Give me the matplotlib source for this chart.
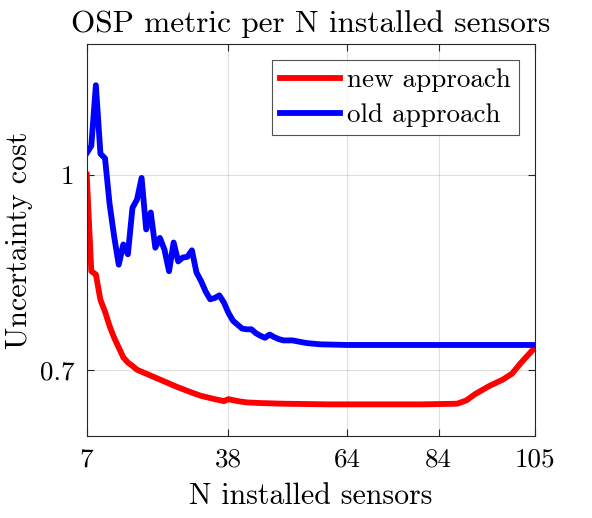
import matplotlib
matplotlib.use("Agg")
import matplotlib.pyplot as plt

plt.rcParams['font.family'] = ['cmr10', 'DejaVu Serif']
plt.rcParams['mathtext.fontset'] = 'cm'
plt.rcParams['axes.formatter.use_mathtext'] = True

title = "OSP metric per N installed sensors"
xlabel = "N installed sensors"
ylabel = "Uncertainty cost"
xticks = [7, 38, 64, 84, 105]
yticks = [0.7, 1.0]
ytick_labels = ["0.7", "1"]

new_x = [7, 8, 9, 10, 11, 12, 13, 14, 15, 16, 17, 18, 20, 23, 25, 27, 30, 32, 35, 37, 38, 40, 42, 45, 50,
         60, 70, 80, 88, 90, 92, 95, 98, 100, 102, 105]
new_y = [1.0, 0.852, 0.847, 0.808, 0.790, 0.768, 0.750, 0.735, 0.720, 0.712, 0.707, 0.701, 0.695, 0.686,
         0.680, 0.674, 0.666, 0.661, 0.656, 0.653, 0.656, 0.653, 0.651, 0.650, 0.649,
         0.648, 0.648, 0.648, 0.649, 0.654, 0.664, 0.676, 0.686, 0.695, 0.712, 0.735]

old_x = [7, 8, 9, 10, 11, 12, 13, 14, 15, 16, 17, 18, 19, 20, 21, 22, 23, 24, 25, 26, 27, 28, 29, 30,
         31, 32, 33, 34, 35, 36, 37, 38, 39, 40, 41, 42, 43, 44, 45, 46, 47, 48, 49, 50, 52, 55, 58,
         64, 84, 105]
old_y = [1.033, 1.044, 1.137, 1.032, 1.025, 0.955, 0.905, 0.862, 0.893, 0.878, 0.949, 0.962, 0.995,
         0.916, 0.942, 0.888, 0.903, 0.885, 0.852, 0.896, 0.867, 0.873, 0.874, 0.884,
         0.850, 0.837, 0.821, 0.809, 0.811, 0.815, 0.804, 0.788, 0.776, 0.770, 0.764, 0.763, 0.763,
         0.757, 0.753, 0.750, 0.755, 0.751, 0.748, 0.746, 0.746, 0.742, 0.740,
         0.739, 0.739, 0.739]

fig = plt.figure(figsize=(5.92, 5.18), dpi=100)
ax = fig.add_axes([0.1465, 0.1589, 0.757, 0.756])

ax.plot(new_x, new_y, color=(1, 0, 0), lw=4.2, label="new approach", solid_joinstyle='round')
ax.plot(old_x, old_y, color=(0, 0, 1), lw=4.2, label="old approach", solid_joinstyle='round')

ax.set_xlim(7, 105)
ax.set_ylim(0.6, 1.2)
ax.set_xticks(xticks)
ax.set_xticklabels([str(v) for v in xticks])
ax.set_yticks(yticks)
ax.set_yticklabels(ytick_labels)
ax.grid(True, color=(0.15, 0.15, 0.15), alpha=0.15, lw=0.8)
ax.tick_params(direction='in', top=True, right=True, length=5, width=0.8,
               colors=(0.15, 0.15, 0.15), labelsize=19.5, labelcolor='black', pad=9)
for s in ax.spines.values():
    s.set_color((0.15, 0.15, 0.15))
    s.set_linewidth(0.8)

ax.set_title(title, fontsize=22.5, pad=9)
ax.set_xlabel(xlabel, fontsize=21.5, labelpad=8)
ax.set_ylabel(ylabel, fontsize=21.5, labelpad=5)

leg = ax.legend(loc='upper right', fontsize=19.5, frameon=True, fancybox=False,
                edgecolor=(0.15, 0.15, 0.15), handlelength=2.2, borderpad=0.3,
                labelspacing=0.4, handletextpad=0.25, borderaxespad=0.6)
leg.get_frame().set_linewidth(0.8)

fig.savefig("out.png", dpi=100)
